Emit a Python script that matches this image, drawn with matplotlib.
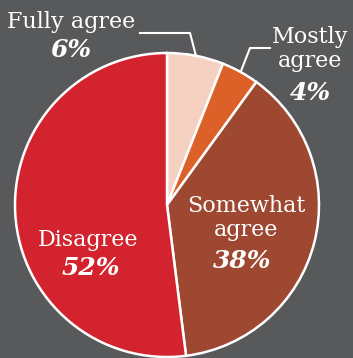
import matplotlib.pyplot as plt

labels = ['Fully agree', 'Mostly agree', 'Somewhat agree', 'Disagree']
shares = [6, 4, 38, 52]
colors = ['#f6d0c1', '#dc6129', '#9e4832', '#d2232e']

bg = '#58595b'
fig = plt.figure(figsize=(3.53, 3.58), dpi=100, facecolor=bg)
ax = fig.add_axes([0, 0, 1, 1])
ax.set_facecolor(bg)

cx, cy, r = 167, 358 - 205, 152
ax.pie(shares, colors=colors, startangle=90, counterclock=False,
       center=(cx, cy), radius=r, frame=True,
       wedgeprops=dict(edgecolor='white', linewidth=1.8))
ax.set_xlim(0, 353)
ax.set_ylim(0, 358)
ax.set_aspect('equal')
ax.axis('off')

serif = 'DejaVu Serif'
name_kw = dict(color='white', family=serif, fontsize=16, ha='center', va='center')
pct_kw = dict(color='white', family=serif, fontsize=18, fontweight='bold',
              fontstyle='italic', ha='center', va='center')

# Fully agree
ax.text(71, 358 - 22, 'Fully agree', **name_kw)
ax.text(71, 358 - 50, f'{shares[0]}%', **pct_kw)
ax.plot([140, 190, 196], [358 - 33, 358 - 33, 358 - 56], color='white', lw=1.5)

# Mostly agree
ax.text(310, 358 - 37, 'Mostly', **name_kw)
ax.text(310, 358 - 61, 'agree', **name_kw)
ax.text(310, 358 - 93, f'{shares[1]}%', **pct_kw)
ax.plot([270, 250, 241], [358 - 48, 358 - 48, 358 - 71], color='white', lw=1.5)

# Somewhat agree
ax.text(246, 358 - 206, 'Somewhat', **name_kw)
ax.text(246, 358 - 230, 'agree', **name_kw)
ax.text(242, 358 - 261, f'{shares[2]}%', **pct_kw)

# Disagree
ax.text(88, 358 - 240, 'Disagree', **name_kw)
ax.text(91, 358 - 268, f'{shares[3]}%', **pct_kw)

fig.savefig('out.png', dpi=100, facecolor=bg)
